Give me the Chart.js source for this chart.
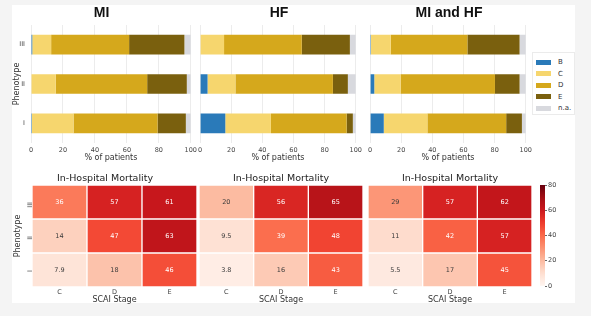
<!DOCTYPE html>
<html><head><meta charset="utf-8">
<script src="https://cdn.jsdelivr.net/npm/chart.js@4.4.0/dist/chart.umd.min.js"></script>
<style>
html,body{margin:0;padding:0;background:#f4f4f4;width:591px;height:316px;overflow:hidden;font-family:"DejaVu Sans",sans-serif;}
#panel{position:absolute;left:12px;top:5px;width:563px;height:298px;background:#fff;}
canvas{position:absolute;}
#legend{position:absolute;left:532px;top:52px;width:43px;height:63px;border:1px solid #ebebeb;background:#fff;box-sizing:border-box;}
.li{position:absolute;left:0;height:10px;font-size:7px;color:#333;line-height:10px;}
.sw{position:absolute;left:3px;top:2.5px;width:15px;height:5px;}
.lt{position:absolute;left:25px;top:0;white-space:nowrap;}
</style></head>
<body>
<div id="panel"></div>
<canvas id="b1" style="left:0;top:0" width="200" height="166"></canvas>
<canvas id="b2" style="left:195px;top:0" width="170" height="166"></canvas>
<canvas id="b3" style="left:365px;top:0" width="170" height="166"></canvas>
<canvas id="h1" style="left:0;top:165px" width="200" height="140"></canvas>
<canvas id="h2" style="left:195px;top:165px" width="170" height="140"></canvas>
<canvas id="h3" style="left:365px;top:165px" width="170" height="140"></canvas>
<canvas id="cb" style="left:530px;top:165px" width="45" height="140"></canvas>
<div id="legend"></div>
<script>
// ---------- data ----------
const STAGES = ['B', 'C', 'D', 'E', 'n.a.'];
const STAGE_COLORS = ['#2a7ab9', '#f6d66e', '#d5a81c', '#7a600e', '#d8d9de'];
const PHENOTYPES = ['III', 'II', 'I'];          // top to bottom
const PCT_TICKS = [0, 20, 40, 60, 80, 100];

// % of patients in each SCAI stage, rows III, II, I
const MI_B  = [0.8, 0.0, 0.6];
const MI_C  = [11.8, 15.5, 26.0];
const MI_D  = [48.8, 57.2, 52.6];
const MI_E  = [34.6, 24.8, 17.7];
const MI_NA = [4.0, 2.5, 3.1];

const HF_B  = [0.0, 4.8, 16.2];
const HF_C  = [15.4, 17.9, 29.3];
const HF_D  = [49.9, 62.6, 48.6];
const HF_E  = [30.9, 9.6, 4.0];
const HF_NA = [3.8, 5.1, 1.9];

const MIHF_B  = [0.6, 2.7, 8.8];
const MIHF_C  = [12.7, 16.9, 28.0];
const MIHF_D  = [49.2, 60.6, 50.6];
const MIHF_E  = [33.5, 15.8, 10.1];
const MIHF_NA = [4.0, 4.0, 2.5];

// In-hospital mortality (%), columns SCAI C, D, E
const SCAI = ['C', 'D', 'E'];
const ROWS_BOTTOM_UP = ['I', 'II', 'III'];
const MORT_MI_I   = [7.9, 18, 46];
const MORT_MI_II  = [14, 47, 63];
const MORT_MI_III = [36, 57, 61];
const MORT_HF_I   = [3.8, 16, 43];
const MORT_HF_II  = [9.5, 39, 48];
const MORT_HF_III = [20, 56, 65];
const MORT_MIHF_I   = [5.5, 17, 45];
const MORT_MIHF_II  = [11, 42, 57];
const MORT_MIHF_III = [29, 57, 62];
const CBAR_TICKS = [0, 20, 40, 60, 80];
const CBAR_MIN = 0, CBAR_MAX = 80;

// ---------- style helpers ----------
Chart.defaults.font.family = '"DejaVu Sans"';
Chart.defaults.color = '#444';
const REDS = ['#fff5f0','#fee0d2','#fcbba1','#fc9272','#fb6a4a','#ef3b2c','#cb181d','#a50f15','#67000d'];
function hex2rgb(h){return [parseInt(h.slice(1,3),16),parseInt(h.slice(3,5),16),parseInt(h.slice(5,7),16)];}
function redsRGB(t){
  t = Math.max(0, Math.min(1, t));
  const p = t * (REDS.length - 1), i = Math.min(Math.floor(p), REDS.length - 2), f = p - i;
  const a = hex2rgb(REDS[i]), b = hex2rgb(REDS[i+1]);
  return a.map((v,k)=>Math.round(v + (b[k]-v)*f));
}
function rgbStr(c){return 'rgb('+c.join(',')+')';}
function lum(c){
  const l = c.map(v=>{v/=255;return v<=0.03928?v/12.92:Math.pow((v+0.055)/1.055,2.4);});
  return 0.2126*l[0]+0.7152*l[1]+0.0722*l[2];
}
function norm(v){return (v-CBAR_MIN)/(CBAR_MAX-CBAR_MIN);}

// ---------- stacked bar panels ----------
function barPanel(id, title, series, showY, padL, padR){
  new Chart(document.getElementById(id), {
    type: 'bar',
    data: {labels: PHENOTYPES, datasets: series.map((d,i)=>({
      label: STAGES[i], data: d, backgroundColor: STAGE_COLORS[i], borderWidth: 0,
      barPercentage: 0.5, categoryPercentage: 1}))},
    options: {
      indexAxis: 'y', responsive: false, animation: false, devicePixelRatio: 1,
      layout: {padding: {left: padL, right: padR, top: 4, bottom: 0}},
      plugins: {
        legend: {display: false}, tooltip: {enabled: false},
        title: {display: true, text: title, color: '#111',
          font: {family: '"Liberation Sans"', size: 14, weight: 'bold', lineHeight: 1},
          padding: {top: 2, bottom: 5}}
      },
      scales: {
        x: {stacked: true, min: 0, max: 100,
          afterBuildTicks: s => { s.ticks = PCT_TICKS.map(v => ({value: v})); },
          ticks: {font: {size: 6.5}, color: '#444', padding: 3},
          grid: {color: '#ececec', drawTicks: false}, border: {display: false},
          title: {display: true, text: '% of patients', font: {size: 8}, color: '#333', padding: {top: 0, bottom: 3.7}},
          afterFit: s => { s.height = 23; }},
        y: {stacked: true, display: showY,
          grid: {display: false, drawTicks: false}, border: {display: false},
          ticks: {font: {size: 6.5}, color: '#444', padding: 6},
          title: {display: showY, text: 'Phenotype', font: {size: 8}, color: '#333', padding: 0},
          afterFit: s => { if (showY) s.width = 19; }}
      }
    }
  });
}
barPanel('b1', 'MI', [MI_B, MI_C, MI_D, MI_E, MI_NA], true, 12, 9);
barPanel('b2', 'HF', [HF_B, HF_C, HF_D, HF_E, HF_NA], false, 5, 7);
barPanel('b3', 'MI and HF', [MIHF_B, MIHF_C, MIHF_D, MIHF_E, MIHF_NA], false, 5, 7);

// legend
const lg = document.getElementById('legend');
STAGES.forEach((s,i)=>{
  const d = document.createElement('div'); d.className = 'li'; d.style.top = (4 + i*11.5) + 'px';
  d.innerHTML = '<span class="sw" style="background:'+STAGE_COLORS[i]+'"></span><span class="lt">'+s+'</span>';
  lg.appendChild(d);
});

// ---------- heatmaps ----------
const annot = {id: 'annot', afterDatasetsDraw(chart){
  const ctx = chart.ctx; ctx.save();
  ctx.font = '6.5px "DejaVu Sans"'; ctx.textAlign = 'center'; ctx.textBaseline = 'middle';
  chart.data.datasets.forEach((ds,i)=>{
    chart.getDatasetMeta(i).data.forEach((el,j)=>{
      const v = ds.mort[j];
      ctx.fillStyle = lum(redsRGB(norm(v))) > 0.408 ? '#3a3a3a' : '#ffffff';
      ctx.fillText(Number(v).toPrecision(2).replace(/\.0$/,''), el.x, (el.y + el.base) / 2);
    });
  });
  ctx.restore();
}};
function heatPanel(id, rows, showY, padL, padR){
  new Chart(document.getElementById(id), {
    type: 'bar',
    data: {labels: SCAI, datasets: ROWS_BOTTOM_UP.map((r,i)=>({
      label: r, mort: rows[i], data: SCAI.map(()=>1),
      backgroundColor: rows[i].map(v => rgbStr(redsRGB(norm(v)))),
      borderColor: '#ffffff', borderWidth: 1, borderSkipped: false,
      barPercentage: 1, categoryPercentage: 1}))},
    options: {
      responsive: false, animation: false, devicePixelRatio: 1,
      layout: {padding: {left: padL, right: padR, top: 5, bottom: 0}},
      plugins: {
        legend: {display: false}, tooltip: {enabled: false},
        title: {display: true, text: 'In-Hospital Mortality', color: '#222',
          font: {size: 9.5, weight: 'normal', lineHeight: 1}, padding: {top: 4, bottom: 1.5}}
      },
      scales: {
        x: {stacked: true, grid: {display: false, drawTicks: false}, border: {display: false},
          ticks: {font: {size: 6.5}, color: '#444', padding: 1},
          title: {display: true, text: 'SCAI Stage', font: {size: 8}, color: '#333', padding: {top: 0, bottom: 0.7}},
          afterFit: s => { s.height = 18; }},
        y: {stacked: true, min: 0, max: 3, display: showY,
          afterBuildTicks: s => { s.ticks = ROWS_BOTTOM_UP.map((r,i) => ({value: i + 0.5})); },
          ticks: {callback: (v,i) => ROWS_BOTTOM_UP[i], minRotation: 90, maxRotation: 90,
            font: {size: 6.5}, color: '#444', padding: 2},
          grid: {display: false, drawTicks: false}, border: {display: false},
          title: {display: showY, text: 'Phenotype', font: {size: 8}, color: '#333', padding: 0},
          afterFit: s => { if (showY) s.width = 19; }}
      }
    },
    plugins: [annot]
  });
}
heatPanel('h1', [MORT_MI_I, MORT_MI_II, MORT_MI_III], true, 13, 3);
heatPanel('h2', [MORT_HF_I, MORT_HF_II, MORT_HF_III], false, 4, 2);
heatPanel('h3', [MORT_MIHF_I, MORT_MIHF_II, MORT_MIHF_III], false, 3, 3);

// ---------- colorbar ----------
function cbarFill(chart){
  const y = chart.scales && chart.scales.y;
  if (!y || !chart.chartArea) return REDS[4];
  const y0 = y.getPixelForValue(CBAR_MIN), y1 = y.getPixelForValue(CBAR_MAX);
  if (!isFinite(y0) || !isFinite(y1) || y0 === y1) return REDS[4];
  const g = chart.ctx.createLinearGradient(0, y0, 0, y1);
  for (let k = 0; k <= 20; k++){ g.addColorStop(k/20, rgbStr(redsRGB(k/20))); }
  return g;
}
const cbChart = new Chart(document.getElementById('cb'), {
  type: 'bar',
  data: {labels: [''], datasets: [{data: [CBAR_MAX], backgroundColor: c => cbarFill(c.chart), borderWidth: 0,
    barPercentage: 1, categoryPercentage: 1}]},
  options: {
    responsive: false, animation: false, devicePixelRatio: 1,
    layout: {padding: {left: 10, right: 0, top: 20, bottom: 19}},
    plugins: {legend: {display: false}, tooltip: {enabled: false}},
    scales: {
      x: {display: false},
      y: {position: 'right', min: CBAR_MIN, max: CBAR_MAX,
        afterBuildTicks: s => { s.ticks = CBAR_TICKS.map(v => ({value: v})); },
        ticks: {font: {size: 6.5}, color: '#444', padding: 1},
        grid: {display: true, drawOnChartArea: false, tickLength: 2, color: '#666'}, border: {display: false},
        afterFit: s => { s.width = 30; }}
    }
  }
});
cbChart.update();
</script>
</body></html>
